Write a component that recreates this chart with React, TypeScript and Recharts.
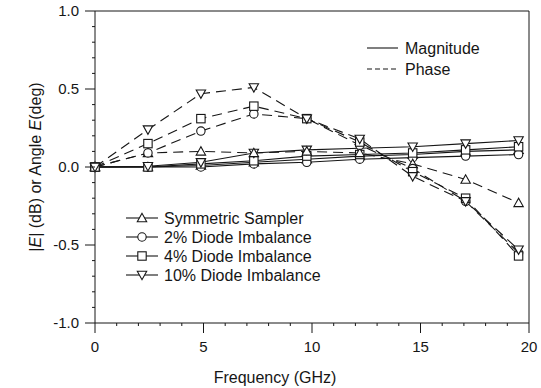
import React from "react";
import { ComposedChart, Legend, Line, XAxis, YAxis } from "recharts";

// sample frequencies (GHz)
const freqGHz = [0, 2.44, 4.88, 7.32, 9.76, 12.2, 14.64, 17.08, 19.52];

// magnitude |E| (dB), solid lines
const magSym = [0, 0, 0.01, 0.03, 0.05, 0.07, 0.08, 0.1, 0.11];
const mag2 = [0, 0, 0, 0.02, 0.03, 0.05, 0.06, 0.07, 0.08];
const mag4 = [0, 0, 0.02, 0.04, 0.07, 0.08, 0.09, 0.11, 0.13];
const mag10 = [0, 0.005, 0.03, 0.09, 0.11, 0.12, 0.13, 0.15, 0.17];

// phase angle E (deg), dashed lines
const phaseSym = [0, 0.09, 0.1, 0.09, 0.1, 0.09, 0.02, -0.08, -0.23];
const phase2 = [0, 0.09, 0.23, 0.34, 0.31, 0.14, -0.01, -0.22, -0.55];
const phase4 = [0, 0.15, 0.31, 0.39, 0.31, 0.16, -0.03, -0.2, -0.57];
const phase10 = [0, 0.24, 0.47, 0.51, 0.31, 0.18, -0.06, -0.22, -0.53];

const seriesNames = ["Symmetric Sampler", "2% Diode Imbalance", "4% Diode Imbalance", "10% Diode Imbalance"];
const seriesKeys = ["sym", "p2", "p4", "p10"];
const markerShapes = ["up", "circle", "square", "down"];
const styleNames = ["Magnitude", "Phase"];

const xTicks = [0, 1, 2, 3, 4, 5, 6, 7, 8, 9, 10, 11, 12, 13, 14, 15, 16, 17, 18, 19, 20];
const yTicks = [-1, -0.9, -0.8, -0.7, -0.6, -0.5, -0.4, -0.3, -0.2, -0.1, 0, 0.1, 0.2, 0.3, 0.4, 0.5, 0.6, 0.7, 0.8, 0.9, 1];

const rows = freqGHz.map((f, i) => ({
  f,
  mag_sym: magSym[i],
  mag_p2: mag2[i],
  mag_p4: mag4[i],
  mag_p10: mag10[i],
  ph_sym: phaseSym[i],
  ph_p2: phase2[i],
  ph_p4: phase4[i],
  ph_p10: phase10[i],
}));

const INK = "#161616";
const FONT = "'Liberation Sans', Arial, Helvetica, sans-serif";

function Marker({ cx, cy, shape }: { cx: number; cy: number; shape: string }) {
  const s = 4.2;
  if (shape === "circle") return <circle cx={cx} cy={cy} r={s} fill="#fff" stroke={INK} strokeWidth={1.1} />;
  if (shape === "square")
    return <rect x={cx - s} y={cy - s} width={s * 2} height={s * 2} fill="#fff" stroke={INK} strokeWidth={1.1} />;
  if (shape === "down")
    return (
      <polygon
        points={`${cx - s - 0.5},${cy - s + 0.5} ${cx + s + 0.5},${cy - s + 0.5} ${cx},${cy + s + 0.5}`}
        fill="#fff"
        stroke={INK}
        strokeWidth={1.1}
      />
    );
  return (
    <polygon
      points={`${cx},${cy - s - 0.5} ${cx - s - 0.5},${cy + s - 0.5} ${cx + s + 0.5},${cy + s - 0.5}`}
      fill="#fff"
      stroke={INK}
      strokeWidth={1.1}
    />
  );
}

const isMajor = (v: number, step: number) => Math.abs(v / step - Math.round(v / step)) < 1e-6;

function XTick(props: any) {
  const { x, y, payload } = props;
  const major = isMajor(payload.value, 5);
  return (
    <g>
      <line x1={x} x2={x} y1={y} y2={y + (major ? 10 : 3)} stroke={INK} />
      {major && (
        <text x={x} y={y + 29} textAnchor="middle" fontSize={15} fontFamily={FONT} fill={INK}>
          {payload.value}
        </text>
      )}
    </g>
  );
}

function YTick(props: any) {
  const { x, y, payload } = props;
  const major = isMajor(payload.value, 0.5);
  return (
    <g>
      <line x1={x - (major ? 10 : 3)} x2={x} y1={y} y2={y} stroke={INK} />
      {major && (
        <text x={x - 16} y={y + 5} textAnchor="end" fontSize={15} fontFamily={FONT} fill={INK}>
          {payload.value.toFixed(1)}
        </text>
      )}
    </g>
  );
}

function RightTick(props: any) {
  const { x, y, payload } = props;
  const major = isMajor(payload.value, 0.5);
  return <line x1={major ? x : x - 3} x2={major ? x + 10 : x} y1={y} y2={y} stroke={INK} />;
}

function YLabel(props: any) {
  const vb = props.viewBox;
  const cx = vb.x + 35;
  const cy = vb.y + vb.height / 2;
  return (
    <text x={cx} y={cy} transform={`rotate(-90 ${cx} ${cy})`} textAnchor="middle" dominantBaseline="central" fontSize={16} fontFamily={FONT} fill={INK}>
      |<tspan fontStyle="italic">E</tspan>| (dB) or Angle  <tspan fontStyle="italic">E</tspan>(deg)
    </text>
  );
}

function XLabel(props: any) {
  const vb = props.viewBox;
  return (
    <text x={275} y={vb.y + 60} textAnchor="middle" fontSize={16} fontFamily={FONT} fill={INK}>
      Frequency (GHz)
    </text>
  );
}

function LegendOverlay() {
  return (
    <svg width={541} height={388} style={{ position: "absolute", left: 0, top: 0 }}>
      {styleNames.map((name, i) => (
        <g key={name}>
          <line x1={367} x2={398} y1={48 + i * 21} y2={48 + i * 21} stroke={INK} strokeWidth={1.1} strokeDasharray={i === 1 ? "5 3" : undefined} />
          <text x={405} y={48 + i * 21} dominantBaseline="central" fontSize={16} fontFamily={FONT} fill={INK}>
            {name}
          </text>
        </g>
      ))}
      {seriesNames.map((name, i) => {
        const y = 218 + i * 19;
        return (
          <g key={name}>
            <line x1={126} x2={158} y1={y} y2={y} stroke={INK} strokeWidth={1.1} />
            <Marker cx={142} cy={y} shape={markerShapes[i]} />
            <text x={164} y={y} dominantBaseline="central" fontSize={16} fontFamily={FONT} fill={INK}>
              {name}
            </text>
          </g>
        );
      })}
    </svg>
  );
}

export default function App() {
  return (
    <div style={{ position: "absolute", left: 0, top: 0, width: 541, height: 388, background: "#fff", fontFamily: FONT }}>
      <ComposedChart width={541} height={388} data={rows} margin={{ top: 0, right: 0, bottom: 0, left: 0 }}>
        <XAxis xAxisId="top" orientation="top" type="number" domain={[0, 20]} height={11} tick={false} tickLine={false} axisLine={{ stroke: INK }} />
        <YAxis
          yAxisId="right"
          orientation="right"
          type="number"
          domain={[-1, 1]}
          ticks={yTicks}
          width={12}
          tickSize={0}
          tickMargin={0}
          tickLine={false}
          interval={0}
          tick={<RightTick />}
          axisLine={{ stroke: INK }}
        />
        <XAxis
          dataKey="f"
          type="number"
          domain={[0, 20]}
          ticks={xTicks}
          interval={0}
          height={65}
          tickSize={0}
          tickMargin={0}
          tickLine={false}
          tick={<XTick />}
          axisLine={{ stroke: INK }}
          label={{ content: <XLabel /> }}
        />
        <YAxis
          type="number"
          domain={[-1, 1]}
          ticks={yTicks}
          interval={0}
          width={95}
          tickSize={0}
          tickMargin={0}
          tickLine={false}
          tick={<YTick />}
          axisLine={{ stroke: INK }}
          label={{ content: <YLabel /> }}
        />
        <Legend
          layout="horizontal"
          verticalAlign="middle"
          align="center"
          wrapperStyle={{ position: "absolute", left: 0, top: 0, width: 541, height: 388, pointerEvents: "none" }}
          content={() => <LegendOverlay />}
        />
        {seriesKeys.map((k, i) => (
          <Line
            key={`mag_${k}`}
            dataKey={`mag_${k}`}
            name={`${seriesNames[i]} magnitude`}
            stroke={INK}
            strokeWidth={1.1}
            isAnimationActive={false}
            dot={(p: any) => <Marker key={`mag_${k}_${p.index}`} cx={p.cx} cy={p.cy} shape={markerShapes[i]} />}
          />
        ))}
        {seriesKeys.map((k, i) => (
          <Line
            key={`ph_${k}`}
            dataKey={`ph_${k}`}
            name={`${seriesNames[i]} phase`}
            stroke={INK}
            strokeWidth={1.1}
            strokeDasharray="10 6"
            isAnimationActive={false}
            dot={(p: any) => <Marker key={`ph_${k}_${p.index}`} cx={p.cx} cy={p.cy} shape={markerShapes[i]} />}
          />
        ))}
      </ComposedChart>
    </div>
  );
}
